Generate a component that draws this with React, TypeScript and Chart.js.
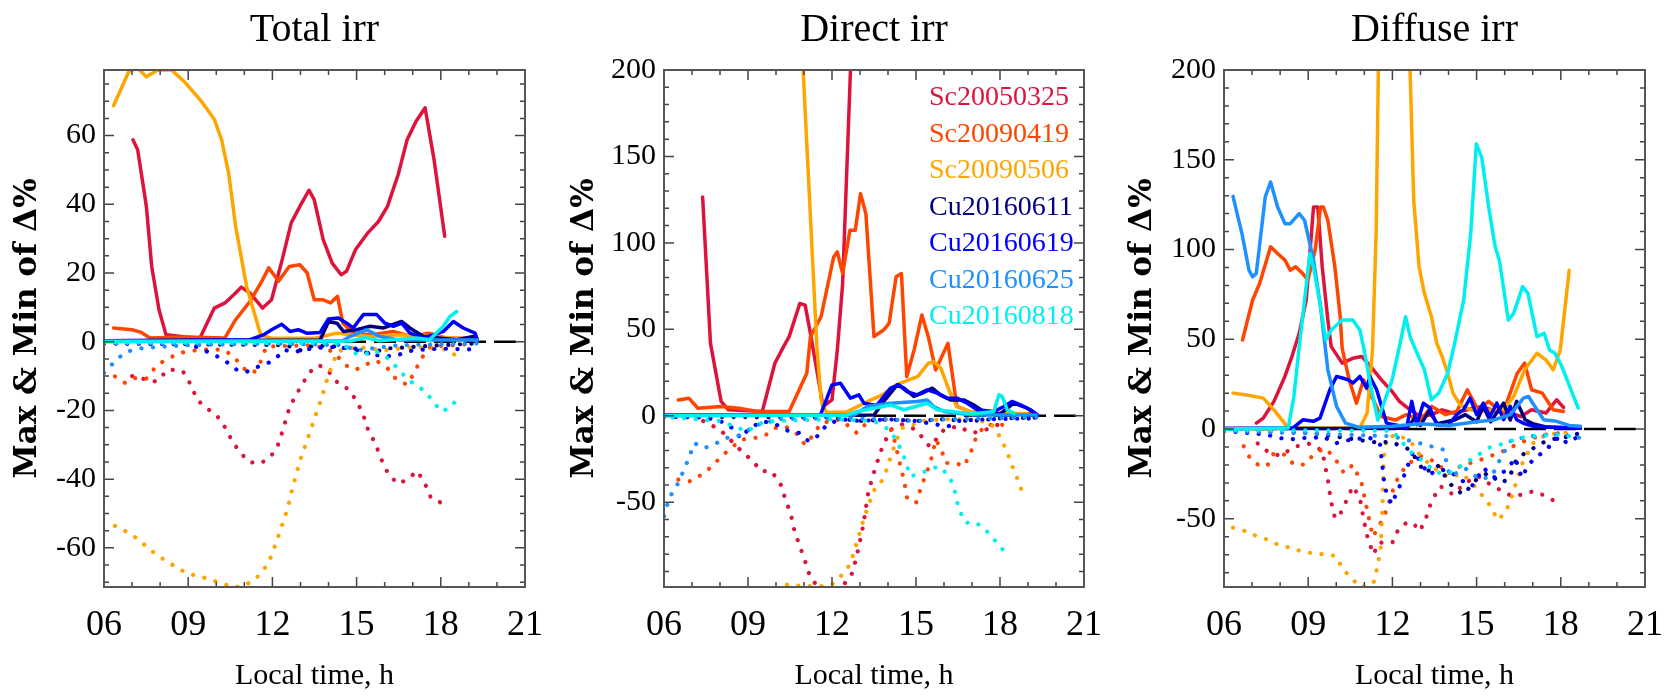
import React, { useEffect, useRef } from 'react';
import { Chart, registerables } from 'chart.js';

Chart.register(...registerables);

const FONT = "'Liberation Serif', 'Times New Roman', Times, serif";
const YTITLE_FONT = "'DejaVu Serif', 'Liberation Serif', serif";

const seriesNames = ['Sc20050325', 'Sc20090419', 'Sc20090506', 'Cu20160611', 'Cu20160619', 'Cu20160625', 'Cu20160818'];
const seriesColors = ['#DC143C', '#FF4500', '#FFA500', '#000080', '#0000FF', '#1E90FF', '#00F0F0'];
const panelTitles = ['Total irr', 'Direct irr', 'Diffuse irr'];
const xTickLabels = ['06', '09', '12', '15', '18', '21'];
const zeroLine = [[6, 0], [21, 0]];

// ---------------- Total irr : max (solid) ----------------
const totMax_Sc20050325 = [[7.03,58.8],[7.2,55.9],[7.51,39.4],[7.7,21.9],[7.96,9.3],[8.21,2.0],[8.91,1.4],[9.42,1.1],[9.93,9.8],[10.31,11.3],[10.69,14.2],[10.89,15.9],[11.2,14.2],[11.65,9.8],[11.97,12.2],[12.35,23.9],[12.67,34.6],[12.98,39.4],[13.3,44.1],[13.49,41.4],[13.81,29.7],[14.13,22.9],[14.45,19.5],[14.64,20.5],[14.96,26.8],[15.4,31.7],[15.78,35.0],[16.1,39.4],[16.48,48.6],[16.8,58.8],[17.12,64.2],[17.44,68.1],[17.76,53.0],[18.14,30.7]];
const totMax_Sc20090419 = [[6.34,4.0],[7.0,3.5],[7.3,2.8],[7.64,1.1],[8.91,1.4],[10.31,1.1],[10.69,6.4],[11.2,11.7],[11.59,17.1],[11.87,21.5],[12.22,17.6],[12.6,21.9],[12.98,22.4],[13.24,20.0],[13.49,12.2],[13.81,12.2],[14.07,11.3],[14.32,13.2],[14.51,5.4],[14.89,2.5],[15.5,2.0],[16.3,3.0],[17.0,1.5],[17.57,2.5],[18.2,1.0],[19.2,1.0]];
const totMax_Sc20090506 = [[6.34,68.7],[6.88,78.6],[7.2,79.7],[7.51,77.1],[7.9,79.0],[8.4,79.2],[8.91,75.3],[9.42,70.5],[9.68,67.6],[9.93,64.7],[10.19,58.8],[10.44,49.1],[10.69,33.6],[11.08,16.1],[11.58,2.0],[11.97,1.0],[13.5,1.0],[14.3,2.5],[14.8,2.0],[15.5,1.5],[16.5,2.0],[17.5,1.5],[18.6,1.0],[19.3,0.5]];
const totMax_Cu20160611 = [[6.0,0.3],[13.7,0.5],[14.0,5.9],[14.3,5.4],[14.53,3.0],[15.0,3.5],[15.48,4.5],[15.95,4.0],[16.6,5.9],[16.9,4.0],[17.38,1.5],[18.57,0.6],[19.16,1.5],[19.3,0.5]];
const totMax_Cu20160619 = [[6.0,0.3],[11.2,0.6],[11.68,2.0],[11.97,3.5],[12.33,5.1],[12.63,3.0],[12.92,3.5],[13.22,2.5],[13.7,2.7],[13.99,6.6],[14.35,6.9],[14.65,5.4],[14.88,4.0],[15.24,7.9],[15.72,7.9],[16.01,5.4],[16.31,4.5],[16.61,5.4],[16.9,2.5],[17.38,1.1],[17.73,2.0],[18.09,3.0],[18.45,5.9],[18.8,4.0],[19.22,2.5],[19.3,0.6]];
const totMax_Cu20160625 = [[6.0,0.2],[14.5,0.3],[14.76,1.5],[15.36,3.5],[15.83,1.5],[16.5,0.5],[19.3,0.5]];
const totMax_Cu20160818 = [[6.0,0.0],[14.8,0.2],[15.3,1.2],[15.8,0.3],[17.14,1.1],[17.6,0.6],[18.09,4.5],[18.33,7.4],[18.57,8.8]];

// ---------------- Total irr : min (dotted) ----------------
const totMin_Sc20050325 = [[7.0,-10],[7.5,-11],[7.86,-11.6],[8.3,-8],[8.81,-8.6],[9.07,-12.2],[9.32,-16.9],[9.64,-19.3],[10.0,-21.3],[10.31,-24.9],[10.57,-29.0],[10.85,-32.2],[11.17,-35],[11.56,-35.5],[11.93,-33.6],[12.2,-30],[12.39,-25.3],[12.55,-20.6],[12.76,-16.7],[13.02,-13],[13.32,-8.9],[13.66,-6.8],[14.0,-8.6],[14.33,-12],[14.7,-13.8],[15.02,-17.4],[15.25,-21.6],[15.43,-26.1],[15.66,-29.5],[15.89,-34.4],[16.14,-38.7],[16.48,-41.4],[16.84,-39.9],[17.16,-37.6],[17.44,-41.4],[17.65,-45.5],[18.04,-47]];
const totMin_Sc20090419 = [[6.39,-10.1],[6.75,-12],[7.1,-10.6],[7.49,-10.9],[7.9,-6.7],[8.28,-5],[8.66,-3.3],[9.04,-2.8],[9.42,-2.3],[9.87,-2.3],[10.25,-2.3],[10.63,-4.3],[10.95,-7.7],[11.33,-9.1],[11.59,-5.7],[11.78,-1.4],[13.5,-1.0],[14.2,-3.0],[14.57,-6.7],[14.96,-8.2],[15.3,-6.7],[15.7,-5.5],[16.1,-7.7],[16.42,-11],[16.8,-12.5],[17.05,-9.1],[17.31,-4.8],[17.63,-1.4],[18.5,-1.0],[19.2,-0.5]];
const totMin_Sc20090506 = [[6.39,-53.6],[6.78,-55.2],[7.16,-57.2],[7.51,-59.6],[7.87,-62],[8.25,-64],[8.62,-65.9],[9.02,-67.6],[9.42,-68.3],[9.8,-69.3],[10.21,-70.3],[10.59,-71.6],[10.99,-71],[11.37,-69.3],[11.71,-66.2],[11.97,-62.3],[12.16,-57.9],[12.35,-53.3],[12.54,-48.6],[12.67,-44.1],[12.83,-39.2],[12.98,-34.7],[13.18,-30],[13.37,-25.6],[13.56,-21],[13.75,-16.6],[13.91,-12],[14.07,-8.2],[14.32,-2.8],[15.0,-1.5],[16.0,-2.5],[17.0,-1.5],[17.8,-2.0],[18.26,-2.3],[18.65,-4.8]];
const totMin_Cu20160611 = [[6.0,-0.5],[12.5,-1],[13.0,-2.5],[13.5,-1],[14.5,-1.5],[15.5,-3.5],[16.0,-2],[17.0,-1.5],[18.0,-1.0],[19.3,-0.5]];
const totMin_Cu20160619 = [[6.0,-0.5],[9.0,-0.5],[9.57,-2.5],[9.93,-3.8],[10.34,-5.7],[10.69,-8],[11.05,-8.9],[11.33,-7.7],[11.71,-6.7],[12.09,-5.2],[12.41,-2.3],[12.76,-3.1],[13.11,-2.3],[14.0,-1.5],[15.0,-2.0],[15.53,-3.8],[16.3,-4.3],[17.0,-2.5],[18.0,-2.0],[19.28,-2.3]];
const totMin_Cu20160625 = [[6.0,-9.1],[6.39,-5.7],[6.75,-3.1],[7.2,-2],[8.0,-1.5],[9.0,-1.0],[12.0,-0.5],[14.5,-1],[15.0,-2.5],[15.5,-2.0],[16.5,-1.0],[19.3,-0.5]];
const totMin_Cu20160818 = [[6.0,-0.3],[14.5,-0.5],[14.89,-3.3],[15.27,-3.8],[15.6,-2.5],[15.97,-3.8],[16.29,-6.2],[16.67,-9.6],[17.06,-12.5],[17.37,-14],[17.69,-16.9],[18.01,-20.3],[18.33,-19.3],[18.65,-15.9]];

// ---------------- Direct irr : max (solid) ----------------
const dirMax_Sc20050325 = [[7.38,126.5],[7.66,41.9],[8.04,8.3],[8.3,3.5],[9.51,2.5],[9.96,30.4],[10.27,40],[10.47,45.8],[10.85,65],[11.04,64],[11.23,47.7],[11.68,5.4],[12.0,9.2],[12.19,38],[12.38,76.5],[12.66,200],[12.8,260],[18.1,300]];
const dirMax_Sc20090419 = [[6.51,9.2],[6.89,10.2],[7.21,4.4],[8.04,5.4],[8.68,4.4],[9.32,2.5],[10.47,2.5],[11.1,24.6],[11.23,45.8],[11.61,57.3],[12.06,91.9],[12.19,94.8],[12.38,82.3],[12.64,107.3],[12.83,107.3],[13.02,128.5],[13.21,116.9],[13.5,45.8],[13.84,49.6],[14.04,53.5],[14.29,80.4],[14.48,82.3],[14.67,22.7],[14.93,38],[15.21,58.3],[15.44,45.8],[15.7,26.5],[16.14,41.9],[16.46,5.4],[17.0,2.0],[18.0,1.5],[19.3,1.0]];
const dirMax_Sc20090506 = [[6.34,400],[10.9,220],[10.97,199.6],[11.46,40],[11.61,9.2],[11.8,2],[12.5,2],[13.27,8.3],[13.78,12],[14.29,17.9],[14.74,20.8],[15.06,22.7],[15.44,30.4],[15.63,31.3],[15.89,27.5],[16.2,14],[16.46,5.4],[17.0,2],[18.0,1.5],[19.0,1.0]];
const dirMax_Cu20160611 = [[6.0,0.3],[13.5,0.5],[13.85,8.3],[14.33,17.9],[14.57,16],[14.92,11.2],[15.22,13.1],[15.58,16],[15.87,12.1],[16.23,9.2],[16.7,9.2],[17.06,6.3],[17.42,2.5],[18.0,1.0],[18.49,7.3],[18.97,4.4],[19.33,0.5]];
const dirMax_Cu20160619 = [[6.0,0.3],[11.59,0.5],[12.0,17.9],[12.3,18.8],[12.66,10.2],[12.96,12.1],[13.14,7.3],[13.6,6],[14.09,16],[14.39,17.9],[14.68,14],[15.04,12.1],[15.4,15],[15.76,13.1],[16.11,10.2],[16.47,10.2],[16.83,7.3],[17.18,3.5],[17.78,2.5],[18.14,5.4],[18.43,8.3],[18.73,6.3],[19.09,3.5],[19.33,0.6]];
const dirMax_Cu20160625 = [[6.0,0.2],[12.8,0.5],[13.26,5.4],[14.09,7.3],[15.04,8.3],[15.4,9.2],[15.63,5.4],[16.0,2.5],[17.0,0.5],[19.3,0.5]];
const dirMax_Cu20160818 = [[6.0,0.0],[12.5,0.3],[12.9,2.5],[14.09,6.3],[14.57,3.5],[15.4,7.3],[15.76,3.5],[17.0,1.0],[17.78,2.5],[17.96,12.1],[18.08,11.2],[18.26,3.5],[18.5,1.5]];

// ---------------- Direct irr : min (dotted) ----------------
const dirMin_Sc20050325 = [[7.4,-3],[8.0,-8],[8.5,-16],[8.8,-21],[9.19,-26.3],[9.45,-32],[9.83,-32],[10.15,-38.8],[10.34,-48.5],[10.53,-57],[10.66,-66.7],[10.85,-75.4],[11.04,-84],[11.23,-93.7],[11.49,-98.5],[11.8,-106],[12.2,-104],[12.38,-98.5],[12.7,-91.7],[12.87,-82.1],[13.0,-72.5],[13.12,-62.9],[13.3,-43.7],[13.55,-30],[13.8,-18],[14.1,-8],[14.5,-5],[15.0,-8],[15.5,-18],[16.0,-8],[16.5,-6],[17.0,-10],[17.5,-8],[18.1,-4]];
const dirMin_Sc20090419 = [[6.51,-36.9],[6.96,-37.9],[7.34,-34],[7.72,-29.2],[8.04,-23.5],[8.4,-18.7],[8.74,-13.8],[9.19,-12.9],[9.57,-11.9],[9.95,-7.1],[10.34,-6.2],[10.72,-10],[11.04,-16.7],[11.29,-11.9],[11.61,-4.2],[12.3,-2],[12.89,-10],[13.3,-3],[13.9,-2],[14.17,-10],[14.42,-27.3],[14.58,-37.9],[14.68,-47.5],[15.0,-50.4],[15.19,-40.8],[15.38,-33],[15.57,-23.5],[15.7,-13.8],[15.89,-18.7],[16.06,-27.3],[16.4,-27.3],[16.72,-29.2],[16.97,-20.6],[17.16,-11.9],[17.48,-5.2],[18.19,-5.2]];
const dirMin_Sc20090506 = [[6.34,-150],[10.0,-115],[10.4,-97.5],[11.0,-98.5],[11.6,-98.5],[12.0,-97.5],[12.38,-91.7],[12.64,-86],[12.83,-76.3],[13.02,-65.8],[13.17,-58],[13.33,-50.4],[13.52,-42.7],[13.71,-39.8],[13.91,-33],[14.1,-23.5],[14.29,-14.8],[14.48,-7.1],[14.74,-6.2],[15.2,-3],[16.0,-2],[17.0,-2],[17.67,-4.2],[17.99,-11.9],[18.25,-20.6],[18.44,-29.2],[18.66,-37.9],[18.82,-45.6]];
const dirMin_Cu20160611 = [[6.0,-0.5],[12.0,-1],[13.0,-3],[14.0,-2],[15.0,-3],[16.0,-2],[17.0,-3],[18.0,-1.5],[19.33,-1]];
const dirMin_Cu20160619 = [[6.0,-0.5],[7.5,-1],[8.2,-4],[8.5,-8],[8.74,-13],[9.0,-8],[9.5,-3],[10.0,-5],[10.47,-9],[10.85,-10],[11.17,-14.8],[11.55,-11],[11.8,-5.2],[12.3,-2],[13.0,-3],[14.0,-2],[15.0,-3],[16.14,-6.2],[16.5,-3],[17.5,-2],[19.33,-1.5]];
const dirMin_Cu20160625 = [[6.0,-58],[6.19,-47.5],[6.51,-38.8],[6.77,-29.2],[7.09,-15.8],[7.41,-18.7],[7.79,-16.7],[8.17,-12.9],[8.6,-12],[8.94,-9],[9.32,-5.2],[9.64,-4.2],[10.0,-2],[12.0,-1.5],[14.0,-2],[15.0,-3],[16.0,-2],[19.3,-1]];
const dirMin_Cu20160818 = [[6.3,-1],[8.0,-3],[8.97,-9],[9.5,-4],[10.0,-3],[12.0,-2],[13.5,-3],[14.04,-8],[14.29,-13.8],[14.55,-22.5],[14.8,-35],[15.19,-33],[15.5,-31],[15.82,-29.2],[16.2,-35],[16.4,-44.6],[16.53,-54.2],[16.78,-61.9],[17.1,-61.5],[17.42,-64.8],[17.74,-70.6],[17.99,-75.4],[18.31,-81.2]];

// ---------------- Diffuse irr : max (solid) ----------------
const difMax_Sc20050325 = [[7.15,3.3],[7.4,6.1],[7.78,15.4],[8.17,29.3],[8.42,40.4],[8.68,53.3],[8.93,71.9],[9.19,123.7],[9.34,123.7],[9.5,90.4],[9.7,60.7],[9.82,45.9],[10.21,36.7],[10.59,39.4],[10.91,40.4],[11.23,34.8],[11.61,27.4],[11.99,20.9],[12.25,15.4],[12.63,10.7],[13.0,7],[13.39,8],[13.77,10.7],[14.16,8.9],[14.67,10.7],[15.18,12.6],[15.69,9.8],[16.2,8.9],[16.58,7],[16.96,10.7],[17.47,8.9],[17.85,16.3],[18.1,12]];
const difMax_Sc20090419 = [[6.66,49.6],[7.02,71.9],[7.27,81.1],[7.66,101.5],[7.91,97.8],[8.17,94.1],[8.36,88.5],[8.55,90.4],[8.8,86.7],[8.99,83],[9.25,100],[9.44,123.7],[9.54,123.7],[9.7,116.3],[9.95,90.4],[10.14,62.6],[10.21,45],[10.46,27.4],[10.72,14.4],[10.97,27.4],[11.2,20],[11.6,7],[12.1,5],[12.5,8],[13.0,5],[13.4,12.6],[13.9,8],[14.3,10],[14.67,21.9],[15.05,10.7],[15.43,15.4],[15.94,8.9],[16.45,31.1],[16.71,36.7],[16.96,21.9],[17.34,20],[17.73,10.7],[18.1,9.8]];
const difMax_Sc20090506 = [[6.32,20],[6.76,19.1],[7.4,17.2],[7.78,10.7],[8.29,0.6],[10.84,0.6],[11.1,8.9],[11.29,44],[11.42,108.9],[11.5,200],[11.55,260],[12.55,260],[12.63,200],[12.76,127.4],[12.95,90.4],[13.14,75.6],[13.39,62.6],[13.58,47.8],[13.77,40.4],[13.97,31.1],[14.16,20],[14.41,13.5],[14.79,10.7],[15.18,9.8],[15.56,10.7],[15.94,10.7],[16.32,18.1],[16.71,33],[17.15,42.2],[17.47,38.5],[17.73,33],[17.98,44],[18.3,88.5]];
const difMax_Cu20160611 = [[6.0,0.3],[12.5,0.5],[12.8,6],[13.0,2],[13.3,10],[13.6,3],[14.2,5],[14.6,8],[15.0,4],[15.24,12.6],[15.5,4],[15.96,14.4],[16.2,5],[16.43,15.4],[16.73,5.2],[17.0,3],[17.5,1],[18.7,0.5]];
const difMax_Cu20160619 = [[6.0,0.3],[8.46,0.6],[8.82,5.2],[9.18,4.3],[9.42,6.1],[9.77,21.9],[10.01,29.3],[10.25,28.3],[10.42,27.4],[10.6,25.6],[10.84,29.3],[11.08,22.8],[11.2,29.3],[11.44,21.9],[11.79,3.3],[12.51,1],[12.69,15.4],[12.87,2.4],[13.1,14.4],[13.34,11.7],[13.58,2.4],[14.0,2],[14.29,8],[14.53,10.7],[14.77,17.2],[15.0,8],[15.24,14.4],[15.48,7],[15.72,14.4],[15.96,5.2],[16.2,12.6],[16.43,5.2],[16.7,3],[17.03,1.5],[18.7,0.5]];
const difMax_Cu20160625 = [[6.32,129.6],[6.64,108.9],[6.89,88.5],[7.02,84.8],[7.15,86.7],[7.47,129.3],[7.66,137.6],[7.91,123.7],[8.17,114.4],[8.36,114.4],[8.68,120],[8.87,116.3],[9.19,94.1],[9.44,68.1],[9.7,33],[10.01,12.6],[10.33,3.3],[10.8,1],[12.0,1.5],[13.0,3],[14.0,2],[15.0,4],[15.6,5],[16.2,8],[16.67,17.2],[16.85,18.1],[17.1,12],[17.39,5.2],[17.85,4.3],[18.3,2],[18.7,1.5]];
const difMax_Cu20160818 = [[6.0,0],[8.29,0.6],[8.49,18.1],[8.68,45.9],[8.87,71.9],[9.06,97.8],[9.19,90],[9.44,68.1],[9.63,49.6],[9.82,55.2],[10.21,60.7],[10.59,60.7],[10.84,55.2],[10.97,45.9],[11.23,23.7],[11.48,5],[11.99,27.4],[12.25,45.9],[12.47,62.6],[12.63,51.5],[12.88,42.2],[13.14,33],[13.39,16.3],[13.65,20],[13.97,31.1],[14.22,47.8],[14.54,71.9],[14.79,108.9],[14.99,158.9],[15.18,151.5],[15.43,123.7],[15.66,101.5],[15.81,94.1],[16.13,60.7],[16.32,64.4],[16.64,79.3],[16.83,75.6],[17.15,51.5],[17.41,53.3],[17.6,44],[17.79,42.2],[18.04,34.8],[18.36,21.9],[18.62,11.7]];

// ---------------- Diffuse irr : min (dotted) ----------------
const difMin_Sc20050325 = [[7.2,-8],[7.5,-12],[8.0,-15],[8.5,-10],[9.0,-8],[9.5,-12],[9.72,-30],[9.8,-39.3],[9.95,-49.4],[10.08,-49.4],[10.33,-41],[10.59,-31.9],[10.84,-38.3],[11.0,-52.2],[11.13,-61.5],[11.33,-69.8],[11.51,-63.3],[12.0,-63.3],[12.22,-55.6],[12.5,-52.2],[12.73,-52.2],[12.98,-56.9],[13.2,-49.4],[13.39,-40.2],[13.71,-31.9],[14.16,-36.5],[14.6,-30],[15.05,-26.3],[15.4,-30],[15.81,-33.7],[16.26,-37.4],[16.64,-36.5],[17.02,-34.6],[17.41,-37],[17.79,-40.2]];
const difMin_Sc20090419 = [[6.7,-9.6],[6.92,-16.1],[7.21,-19.8],[7.53,-20.7],[7.78,-13.3],[8.17,-14.3],[8.49,-19.8],[8.87,-19.8],[9.19,-14.3],[9.57,-10.6],[9.9,-15],[10.27,-24.4],[10.59,-20],[10.9,-30],[11.1,-45],[11.3,-60],[11.5,-55],[11.8,-45],[12.1,-30],[12.5,-20],[13.0,-15],[13.5,-18],[14.0,-25],[14.5,-20],[15.0,-18],[15.5,-15],[16.0,-12],[16.5,-8],[17.0,-5],[17.5,-3],[18.1,-2]];
const difMin_Sc20090506 = [[6.32,-55],[6.76,-56.9],[7.15,-59.6],[7.53,-61.5],[7.98,-64.8],[8.36,-66.1],[8.74,-68],[9.19,-69.3],[9.57,-69.8],[9.98,-70.7],[10.23,-77.8],[10.54,-83.3],[10.91,-88.3],[11.33,-85.6],[11.46,-77.2],[11.58,-67],[11.61,-57.4],[11.64,-46.7],[11.67,-30],[11.7,-15],[11.8,-5],[12.2,-3],[12.7,-8],[13.0,-15],[13.5,-22],[14.0,-27],[14.5,-25],[15.0,-33],[15.5,-43],[15.75,-50.7],[16.04,-46.3],[16.26,-37.4],[16.6,-20],[17.0,-8],[17.5,-3],[18.3,-2]];
const difMin_Cu20160611 = [[6.0,-1],[9.0,-2],[11.56,-7.8],[11.9,-6.9],[12.63,-11.5],[13.16,-24.4],[13.6,-20],[14.17,-32.8],[14.53,-36.5],[15.0,-28],[15.42,-24.4],[15.84,-30],[16.14,-28.1],[16.44,-16.1],[16.85,-12.4],[17.3,-8],[17.62,-5.9],[18.34,-4.1],[18.7,-2]];
const difMin_Cu20160619 = [[6.0,-1],[7.51,-3.1],[7.99,-5],[8.34,-5.9],[8.76,-5],[9.18,-5],[9.53,-4.1],[9.95,-8.1],[10.37,-6.3],[10.72,-5.9],[11.08,-4.1],[11.32,-5.9],[11.56,-8.7],[11.67,-24.4],[11.73,-32.8],[11.97,-42],[12.39,-27.2],[12.63,-17],[12.75,-12.4],[13.1,-20.7],[13.28,-25.4],[13.7,-22.6],[14.05,-23.5],[14.41,-28.1],[14.83,-31.9],[15.24,-21.7],[15.66,-27.2],[16.08,-22.6],[16.38,-16.1],[16.61,-27.2],[16.85,-19.8],[17.15,-15.2],[17.44,-12.4],[17.74,-6.9],[17.98,-4.1],[18.21,-7.8],[18.45,-5.9],[18.7,-3]];
const difMin_Cu20160625 = [[6.0,-1],[8.0,-2],[10.0,-3],[12.0,-4],[13.0,-8],[13.82,-11.5],[14.05,-26.3],[14.6,-22],[15.12,-28.1],[15.54,-26.3],[15.9,-15],[16.25,-5.9],[17.0,-4],[18.0,-3],[18.7,-5]];
const difMin_Cu20160818 = [[6.0,-0.5],[12.0,-1],[12.63,-12.4],[13.1,-18],[13.58,-24.4],[14.05,-24.4],[14.5,-20],[15.0,-15],[15.5,-10],[16.0,-8],[16.5,-5],[17.0,-4],[18.0,-3],[18.6,-5]];

const totMaxSeries = [totMax_Sc20050325, totMax_Sc20090419, totMax_Sc20090506, totMax_Cu20160611, totMax_Cu20160619, totMax_Cu20160625, totMax_Cu20160818];
const totMinSeries = [totMin_Sc20050325, totMin_Sc20090419, totMin_Sc20090506, totMin_Cu20160611, totMin_Cu20160619, totMin_Cu20160625, totMin_Cu20160818];
const dirMaxSeries = [dirMax_Sc20050325, dirMax_Sc20090419, dirMax_Sc20090506, dirMax_Cu20160611, dirMax_Cu20160619, dirMax_Cu20160625, dirMax_Cu20160818];
const dirMinSeries = [dirMin_Sc20050325, dirMin_Sc20090419, dirMin_Sc20090506, dirMin_Cu20160611, dirMin_Cu20160619, dirMin_Cu20160625, dirMin_Cu20160818];
const difMaxSeries = [difMax_Sc20050325, difMax_Sc20090419, difMax_Sc20090506, difMax_Cu20160611, difMax_Cu20160619, difMax_Cu20160625, difMax_Cu20160818];
const difMinSeries = [difMin_Sc20050325, difMin_Sc20090419, difMin_Sc20090506, difMin_Cu20160611, difMin_Cu20160619, difMin_Cu20160625, difMin_Cu20160818];

// y-axis ranges [min, max, labelled step, minor step] and labelled ticks
const totYRange = [-71.4, 79.1, 20, 5];
const dirYRange = [-99, 200, 50, 10];
const difYRange = [-88, 200, 50, 10];
const totYTicks = [-60, -40, -20, 0, 20, 40, 60];
const dirYTicks = [-50, 0, 50, 100, 150, 200];
const difYTicks = [-50, 0, 50, 100, 150, 200];

const panels = [
  { title: panelTitles[0], left: 0, width: 557, yAxisWidth: 104, padRight: 32, yr: totYRange, yt: totYTicks, maxS: totMaxSeries, minS: totMinSeries, legend: false },
  { title: panelTitles[1], left: 557, width: 558, yAxisWidth: 107, padRight: 31, yr: dirYRange, yt: dirYTicks, maxS: dirMaxSeries, minS: dirMinSeries, legend: true },
  { title: panelTitles[2], left: 1115, width: 554, yAxisWidth: 109, padRight: 24, yr: difYRange, yt: difYTicks, maxS: difMaxSeries, minS: difMinSeries, legend: false },
];

const frameTicksPlugin = {
  id: 'frameTicks',
  afterDatasetsDraw(chart: any, _args: any, opts: any) {
    const { ctx, chartArea: a } = chart;
    const xs = chart.scales.x;
    const ys = chart.scales.y;
    ctx.save();
    ctx.strokeStyle = '#444';
    ctx.lineWidth = 1.5;
    ctx.beginPath();
    for (let v = xs.min; v <= xs.max + 1e-6; v += 1) {
      const px = xs.getPixelForValue(v);
      const len = Math.abs(v / 3 - Math.round(v / 3)) < 1e-6 ? 10 : 5;
      ctx.moveTo(px, a.bottom); ctx.lineTo(px, a.bottom - len);
      ctx.moveTo(px, a.top); ctx.lineTo(px, a.top + len);
    }
    const minor = opts.minor, major = opts.major;
    for (let v = Math.ceil(ys.min / minor) * minor; v <= ys.max + 1e-6; v += minor) {
      const py = ys.getPixelForValue(v);
      const len = Math.abs(v / major - Math.round(v / major)) < 1e-6 ? 10 : 5;
      ctx.moveTo(a.left, py); ctx.lineTo(a.left + len, py);
      ctx.moveTo(a.right, py); ctx.lineTo(a.right - len, py);
    }
    ctx.stroke();
    ctx.strokeStyle = '#555';
    ctx.lineWidth = 2;
    ctx.strokeRect(a.left, a.top, a.right - a.left, a.bottom - a.top);
    ctx.restore();
  },
};

const legendTextPlugin = {
  id: 'legendText',
  afterDatasetsDraw(chart: any, _args: any, opts: any) {
    if (!opts.show) return;
    const { ctx, chartArea: a } = chart;
    ctx.save();
    ctx.font = `28px ${FONT}`;
    ctx.textAlign = 'left';
    ctx.textBaseline = 'middle';
    const x0 = a.left + 265;
    seriesNames.forEach((n, i) => {
      ctx.fillStyle = seriesColors[i];
      ctx.fillText(n, x0, a.top + 28 + i * 36.5);
    });
    ctx.restore();
  },
};

const toXY = (arr: number[][]) => arr.map(([x, y]) => ({ x, y }));

function buildConfig(p: any) {
  const datasets: any[] = [];
  datasets.push({
    label: 'zero', data: toXY(zeroLine), borderColor: '#000', borderWidth: 2.5,
    borderDash: [22, 8], pointRadius: 0,
  });
  for (let i = 0; i < seriesNames.length; i++) {
    datasets.push({
      label: seriesNames[i] + ' max', data: toXY(p.maxS[i]), borderColor: seriesColors[i],
      borderWidth: 3.5, pointRadius: 0, tension: 0, borderJoinStyle: 'round', borderCapStyle: 'round',
    });
    datasets.push({
      label: seriesNames[i] + ' min', data: toXY(p.minS[i]), borderColor: seriesColors[i],
      borderWidth: 4.2, pointRadius: 0, tension: 0, borderDash: [0.1, 11.5], borderCapStyle: 'round',
    });
  }
  datasets.forEach((d, k) => { d.order = datasets.length - k; d.clip = 1; d.fill = false; });

  const [yMin, yMax, yStep, yMinor] = p.yr;
  return {
    type: 'line',
    data: { datasets },
    plugins: [frameTicksPlugin, legendTextPlugin],
    options: {
      animation: false,
      responsive: true,
      maintainAspectRatio: false,
      devicePixelRatio: 1,
      layout: { padding: { left: 0, right: p.padRight, top: 0, bottom: 0 } },
      plugins: {
        legend: { display: false },
        tooltip: { enabled: false },
        title: {
          display: true, text: p.title, color: '#000', fullSize: false,
          font: { family: FONT, size: 40, weight: 'normal' },
          padding: { top: 6, bottom: 16 },
        },
        frameTicks: { minor: yMinor, major: yStep },
        legendText: { show: p.legend },
      },
      scales: {
        x: {
          type: 'linear', min: 6, max: 21,
          grid: { display: false, drawTicks: false },
          border: { display: false },
          ticks: {
            stepSize: 3, autoSkip: false, maxRotation: 0, padding: 17.4, color: '#000',
            font: { family: FONT, size: 36 },
            callback: (v: any) => xTickLabels[Math.round((Number(v) - 6) / 3)] ?? '',
          },
          title: {
            display: true, text: 'Local time, h', color: '#000',
            font: { family: FONT, size: 30 }, padding: { top: 0, bottom: 2 },
          },
          afterFit: (s: any) => { s.height = 109; s.paddingLeft = 0; s.paddingRight = 0; },
        },
        y: {
          type: 'linear', min: yMin, max: yMax,
          grid: { display: false, drawTicks: false },
          border: { display: false },
          afterBuildTicks: (s: any) => { s.ticks = p.yt.map((v: number) => ({ value: v })); },
          ticks: {
            autoSkip: false, padding: 8, color: '#000',
            font: { family: FONT, size: 30 },
          },
          title: {
            display: true, text: 'Max & Min of Δ%', color: '#000',
            font: { family: YTITLE_FONT, size: 31, weight: 'bold' }, padding: { top: 9.4, bottom: 0 },
          },
          afterFit: (s: any) => { s.width = p.yAxisWidth; s.paddingTop = 0; s.paddingBottom = 0; },
        },
      },
    },
  };
}

function Panel({ spec }: { spec: any }) {
  const ref = useRef<HTMLCanvasElement>(null);
  useEffect(() => {
    const chart = new Chart(ref.current as HTMLCanvasElement, buildConfig(spec) as any);
    return () => chart.destroy();
  }, [spec]);
  return (
    <div style={{ position: 'absolute', left: spec.left, top: 0, width: spec.width, height: 696 }}>
      <canvas ref={ref} />
    </div>
  );
}

export default function App() {
  return (
    <div style={{ position: 'absolute', left: 0, top: 0, width: 1669, height: 696, background: '#fff', overflow: 'hidden' }}>
      {panels.map((p) => <Panel key={p.title} spec={p} />)}
    </div>
  );
}
